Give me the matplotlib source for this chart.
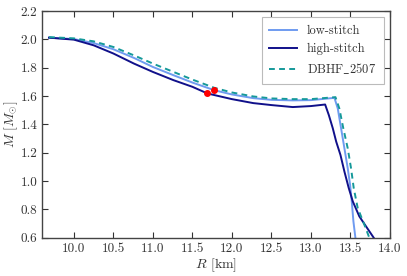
import numpy as np
import matplotlib
matplotlib.use("Agg")
import matplotlib.pyplot as plt

plt.rcParams['font.family'] = ['cmr10', 'DejaVu Serif']
plt.rcParams['mathtext.fontset'] = 'cm'
plt.rcParams['axes.unicode_minus'] = False
plt.rcParams['axes.formatter.use_mathtext'] = True

# mass-radius curves
r_low = [9.685, 10.0, 10.25, 10.5, 10.76, 11.0, 11.26, 11.5, 11.777, 12.0, 12.27, 12.5,
         12.77, 13.0, 13.298, 13.34, 13.382, 13.424, 13.466, 13.496, 13.517, 13.538, 13.563]
m_low = [2.012, 2.002, 1.974, 1.93, 1.869, 1.805, 1.747, 1.695, 1.641, 1.611, 1.585, 1.573,
         1.569, 1.571, 1.587, 1.512, 1.372, 1.231, 1.09, 0.973, 0.856, 0.715, 0.6]

r_high = [9.685, 10.0, 10.25, 10.5, 10.76, 11.0, 11.26, 11.5, 11.69, 12.0, 12.27, 12.5,
          12.77, 13.0, 13.18, 13.227, 13.277, 13.32, 13.374, 13.424, 13.479, 13.53, 13.613,
          13.697, 13.794]
m_high = [2.012, 1.998, 1.958, 1.90, 1.829, 1.77, 1.712, 1.665, 1.618, 1.578, 1.55, 1.536,
          1.522, 1.529, 1.54, 1.465, 1.372, 1.278, 1.184, 1.067, 0.95, 0.856, 0.75,
          0.68, 0.6]

r_dbhf = [9.685, 10.0, 10.25, 10.5, 10.76, 11.0, 11.26, 11.5, 11.777, 12.0, 12.27, 12.5,
          12.77, 13.0, 13.311, 13.36, 13.41, 13.466, 13.508, 13.542, 13.592, 13.676, 13.739]
m_dbhf = [2.016, 2.007, 1.986, 1.946, 1.887, 1.829, 1.77, 1.716, 1.658, 1.625, 1.597, 1.583,
          1.578, 1.578, 1.592, 1.512, 1.372, 1.231, 1.09, 0.95, 0.81, 0.692, 0.6]

# stitching points
r_dots = [11.69, 11.777]
m_dots = [1.618, 1.641]

fig = plt.figure(figsize=(4.07, 2.76), dpi=100)
ax = fig.add_axes([0.104, 0.139, 0.854, 0.821])

ax.plot(r_low, m_low, color='#6f9bf0', lw=1.4, label='low-stitch')
ax.plot(r_high, m_high, color='#10108a', lw=1.4, label='high-stitch')
ax.plot(r_dbhf, m_dbhf, color='#15999a', lw=1.4, ls='--', dashes=(3, 2.2),
        label=r'DBHF$\_$2507')
ax.plot(r_dots, m_dots, 'o', color='red', ms=4, mec='red', zorder=5)

ax.set_xlim(9.6, 14.0)
ax.set_ylim(0.6, 2.2)
ax.set_xticks(np.arange(10.0, 14.01, 0.5))
ax.set_yticks(np.arange(0.6, 2.21, 0.2))
ax.set_xticklabels(['%.1f' % v for v in np.arange(10.0, 14.01, 0.5)])
ax.set_yticklabels(['%.1f' % v for v in np.arange(0.6, 2.21, 0.2)])
ax.tick_params(direction='in', top=True, right=True, length=4, width=0.8,
               labelsize=9.5, colors='#333333', labelcolor='#333333')
for s in ax.spines.values():
    s.set_color('#444444')
    s.set_linewidth(1.0)

ax.set_xlabel(r'$R$ [km]', fontsize=10, color='#333333', labelpad=1)
ax.set_ylabel(r'$M\ [M_{\odot}]$', fontsize=10, color='#333333')
ax.yaxis.set_label_coords(-0.063, 0.5)

leg = ax.legend(loc='upper right', fontsize=9, fancybox=False, framealpha=1,
                edgecolor='#bbbbbb', handlelength=2.2, borderpad=0.6,
                labelspacing=0.5)
leg.get_frame().set_linewidth(0.8)
for t in leg.get_texts():
    t.set_color('#333333')

fig.savefig('out.png', dpi=100)
